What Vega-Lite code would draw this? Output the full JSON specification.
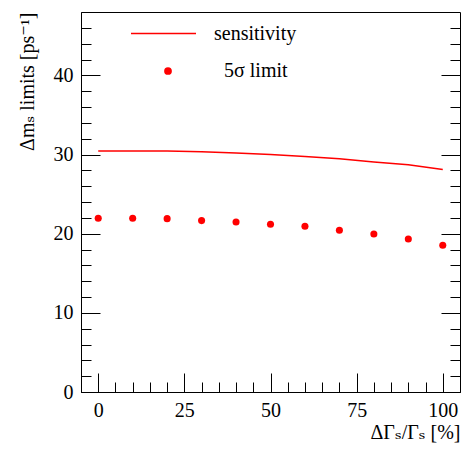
{
  "$schema": "https://vega.github.io/schema/vega-lite/v6.json",
  "width": 379,
  "height": 380,
  "autosize": {"type": "none"},
  "padding": {"left": 81, "top": 12, "right": 2, "bottom": 59},
  "background": "white",
  "datasets": {
    "sens": [
      {"dG": 0, "limit": 30.45, "curve": "sensitivity"},
      {"dG": 10, "limit": 30.45, "curve": "sensitivity"},
      {"dG": 20, "limit": 30.45, "curve": "sensitivity"},
      {"dG": 30, "limit": 30.35, "curve": "sensitivity"},
      {"dG": 40, "limit": 30.2, "curve": "sensitivity"},
      {"dG": 50, "limit": 30.0, "curve": "sensitivity"},
      {"dG": 60, "limit": 29.75, "curve": "sensitivity"},
      {"dG": 70, "limit": 29.45, "curve": "sensitivity"},
      {"dG": 80, "limit": 29.05, "curve": "sensitivity"},
      {"dG": 90, "limit": 28.7, "curve": "sensitivity"},
      {"dG": 100, "limit": 28.1, "curve": "sensitivity"}
    ],
    "lim": [
      {"dG": 0, "limit": 21.95, "curve": "5σ limit"},
      {"dG": 10, "limit": 21.95, "curve": "5σ limit"},
      {"dG": 20, "limit": 21.9, "curve": "5σ limit"},
      {"dG": 30, "limit": 21.65, "curve": "5σ limit"},
      {"dG": 40, "limit": 21.48, "curve": "5σ limit"},
      {"dG": 50, "limit": 21.19, "curve": "5σ limit"},
      {"dG": 60, "limit": 20.93, "curve": "5σ limit"},
      {"dG": 70, "limit": 20.43, "curve": "5σ limit"},
      {"dG": 80, "limit": 19.96, "curve": "5σ limit"},
      {"dG": 90, "limit": 19.33, "curve": "5σ limit"},
      {"dG": 100, "limit": 18.53, "curve": "5σ limit"}
    ]
  },
  "layer": [
    {
      "data": {"name": "sens"},
      "mark": {"type": "line", "strokeWidth": 1.5},
      "encoding": {
        "x": {"field": "dG", "type": "quantitative",
          "scale": {"domain": [-5, 105], "nice": false, "zero": false},
          "axis": {"orient": "bottom", "values": [0, 25, 50, 75, 100], "tickSize": -19, "labelPadding": 27,
            "title": "ΔΓₛ/Γₛ [%]", "titleAnchor": "end", "titlePadding": 2}},
        "y": {"field": "limit", "type": "quantitative",
          "scale": {"domain": [0, 48], "nice": false, "zero": false},
          "axis": {"orient": "left", "values": [0, 10, 20, 30, 40], "tickSize": -19, "labelPadding": 27,
            "title": "Δmₛ limits [ps⁻¹]", "titleAnchor": "end", "titlePadding": 16}},
        "color": {"field": "curve", "type": "nominal",
          "scale": {"domain": ["sensitivity"], "range": ["#ff0000"]},
          "legend": {"orient": "none", "legendX": 49, "legendY": -12, "title": null, "padding": 0,
            "symbolType": "stroke", "symbolSize": 4225, "symbolStrokeWidth": 1.5,
            "labelOffset": 17}}
      }
    },
    {
      "data": {"name": "lim"},
      "mark": {"type": "point", "filled": true, "color": "#ff0000", "opacity": 1, "size": 50},
      "encoding": {
        "x": {"field": "dG", "type": "quantitative",
          "axis": {"orient": "bottom", "values": [5, 10, 15, 20, 30, 35, 40, 45, 55, 60, 65, 70, 80, 85, 90, 95], "tickSize": -10, "labels": false, "domain": false, "title": null}},
        "y": {"field": "limit", "type": "quantitative",
          "axis": {"orient": "left", "values": [2, 4, 6, 8, 12, 14, 16, 18, 22, 24, 26, 28, 32, 34, 36, 38, 42, 44, 46], "tickSize": -10, "labels": false, "domain": false, "title": null}},
        "shape": {"field": "curve", "type": "nominal",
          "scale": {"domain": ["5σ limit"], "range": ["circle"]},
          "legend": {"orient": "none", "legendX": 77, "legendY": 49, "title": null, "padding": 0,
            "symbolSize": 60, "symbolFillColor": "#ff0000", "symbolStrokeWidth": 0,
            "labelOffset": 46}}
      }
    },
    {
      "data": {"name": "sens"},
      "mark": {"type": "line", "opacity": 0},
      "encoding": {
        "x": {"field": "dG", "type": "quantitative", "axis": null},
        "y": {"field": "limit", "type": "quantitative",
          "axis": {"orient": "right", "values": [0, 10, 20, 30, 40], "tickSize": -19, "labels": false, "domain": false, "title": null}}
      }
    },
    {
      "data": {"name": "sens"},
      "mark": {"type": "line", "opacity": 0},
      "encoding": {
        "x": {"field": "dG", "type": "quantitative", "axis": null},
        "y": {"field": "limit", "type": "quantitative",
          "axis": {"orient": "right", "values": [2, 4, 6, 8, 12, 14, 16, 18, 22, 24, 26, 28, 32, 34, 36, 38, 42, 44, 46], "tickSize": -10, "labels": false, "domain": false, "title": null}}
      }
    }
  ],
  "resolve": {"axis": {"x": "independent", "y": "independent"}},
  "config": {
    "view": {"stroke": "black", "strokeWidth": 1},
    "axis": {
      "labelFont": "Times New Roman, Liberation Serif, DejaVu Serif, serif", "titleFont": "Times New Roman, Liberation Serif, DejaVu Serif, serif",
      "labelFontSize": 20, "titleFontSize": 20, "titleFontWeight": "normal",
      "labelColor": "black", "titleColor": "black", "tickColor": "black", "domainColor": "black",
      "grid": false, "tickWidth": 1, "domainWidth": 1
    },
    "legend": {
      "labelFont": "Times New Roman, Liberation Serif, DejaVu Serif, serif", "labelFontSize": 20, "labelColor": "black", "labelLimit": 300
    }
  }
}
